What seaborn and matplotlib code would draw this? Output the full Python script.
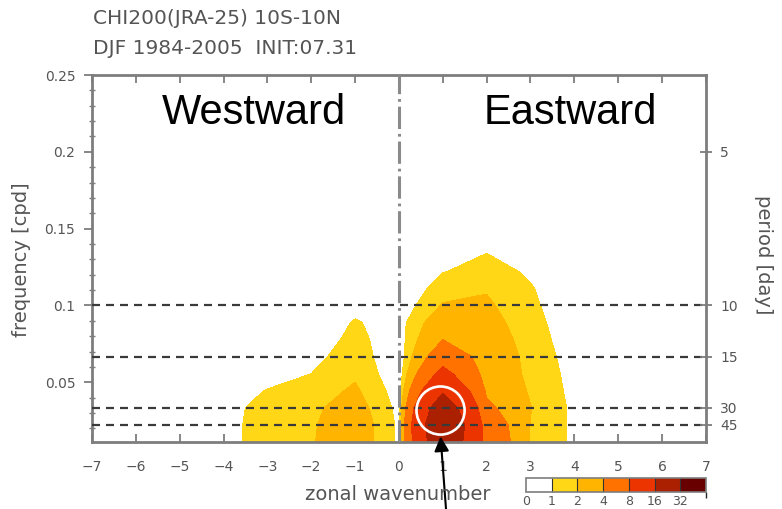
import matplotlib
matplotlib.use("Agg")
import matplotlib.pyplot as plt
import seaborn as sns
import numpy as np
from matplotlib.colors import ListedColormap, BoundaryNorm
from matplotlib.colorbar import ColorbarBase

# zonal wavenumber (columns) and frequency index k -> k/90 cpd (rows)
wavenumbers = [-7, -6, -5, -4, -3, -2, -1, 0, 1, 2, 3, 4, 5, 6, 7]
freq_index = [1, 2, 3, 4, 5, 6, 7, 8, 9, 10, 11, 12, 13, 14]
season_days = 90

power = [
    [0, 0, 0, 0.69, 1.4, 1.9, 2.9, 0.8, 24, 6.5, 1.9, 0.8, 0.2, 0.1, 0.05],
    [0, 0, 0, 0.69, 1.4, 1.85, 2.9, 0.8, 26, 6.0, 1.95, 0.8, 0.2, 0.1, 0.05],
    [0, 0, 0, 0.65, 1.35, 1.75, 2.6, 0.7, 22, 4.6, 2.05, 0.78, 0.2, 0.1, 0.05],
    [0, 0, 0, 0.5, 1.05, 1.4, 2.2, 0.5, 15, 3.6, 1.85, 0.72, 0.2, 0.1, 0.05],
    [0, 0, 0, 0.3, 0.6, 1.0, 1.8, 0.3, 9.5, 3.0, 1.75, 0.65, 0.15, 0.1, 0.05],
    [0, 0, 0, 0.1, 0.3, 0.7, 1.5, 0.3, 6.0, 3.0, 1.65, 0.55, 0.1, 0.05, 0],
    [0, 0, 0, 0, 0.1, 0.5, 1.25, 0.5, 4.0, 2.8, 1.5, 0.45, 0.1, 0, 0],
    [0, 0, 0, 0, 0, 0.3, 1.08, 0.6, 3.0, 2.5, 1.35, 0.4, 0.1, 0, 0],
    [0, 0, 0, 0, 0, 0.1, 0.7, 0.3, 2.1, 2.2, 1.2, 0.33, 0.05, 0, 0],
    [0, 0, 0, 0, 0, 0, 0.3, 0.1, 1.5, 1.9, 1.08, 0.28, 0, 0, 0],
    [0, 0, 0, 0, 0, 0, 0.1, 0, 0.95, 1.4, 0.85, 0.2, 0, 0, 0],
    [0, 0, 0, 0, 0, 0, 0, 0, 0.6, 1.02, 0.5, 0.1, 0, 0, 0],
    [0, 0, 0, 0, 0, 0, 0, 0, 0.3, 0.5, 0.2, 0, 0, 0, 0],
    [0, 0, 0, 0, 0, 0, 0, 0, 0.1, 0.2, 0, 0, 0, 0, 0],
]

levels = [1, 2, 4, 8, 16, 32, 64]
shade_colors = ["#ffd716", "#ffb400", "#ff7200", "#ec3400", "#aa2000", "#690000"]
period_days = [5, 10, 15, 30, 45]
ref_periods = [10, 15, 30, 45]
highlight_wn, highlight_freq = 0.95, 0.0316

sns.set_theme(style="white")
plt.rcParams["font.family"] = ["DejaVu Sans"]
grey = "#7d7d7d"
text_grey = "#555555"

fig = plt.figure(figsize=(7.82, 5.09), dpi=100)
ax = fig.add_axes([0.1176, 0.1316, 0.785, 0.721])

freqs = np.array(freq_index) / season_days
ax.contourf(wavenumbers, freqs, np.array(power), levels=levels,
            colors=sns.color_palette(shade_colors), zorder=1)

for p in ref_periods:
    ax.axhline(1 / p, color="#3a3a3a", lw=1.6, ls=(0, (3.6, 2.7)), zorder=3)
ax.axvline(0, color="#8a8a8a", lw=2.2, ls=(0, (7.3, 1.6, 0.9, 1.6)), zorder=3)

ax.scatter([highlight_wn], [highlight_freq], s=1200, facecolors="none",
           edgecolors="white", linewidths=1.9, zorder=5)
ax.annotate("", xy=(highlight_wn, 0.0147), xycoords="data",
            xytext=(446 / 782, 0.0), textcoords="figure fraction",
            arrowprops=dict(arrowstyle="-|>", color="black", lw=1.5,
                            mutation_scale=22, shrinkA=0, shrinkB=0),
            annotation_clip=False, zorder=6)

ax.set_xlim(-7, 7)
ax.set_ylim(1 / season_days, 0.25)
ax.set_xticks(range(-7, 8))
ax.set_yticks([0.05, 0.1, 0.15, 0.2, 0.25])
ax.set_yticklabels(["0.05", "0.1", "0.15", "0.2", "0.25"])
ax.set_yticks(np.arange(0.02, 0.25, 0.01), minor=True)
ax.tick_params(axis="x", direction="in", length=6, width=1.3, color=grey,
               labelsize=10, labelcolor=text_grey, pad=13, top=True, bottom=True)
ax.tick_params(axis="y", which="major", direction="out", length=6, width=1.3,
               color=grey, labelsize=10, labelcolor=text_grey, pad=6)
ax.tick_params(axis="y", which="minor", direction="inout", length=5, width=1.0,
               color=grey, left=True)
for sp in ax.spines.values():
    sp.set_color(grey)
    sp.set_linewidth(2)
    sp.set_visible(True)

ax2 = ax.twinx()
ax2.set_ylim(ax.get_ylim())
ax2.set_yticks([1 / p for p in period_days])
ax2.set_yticklabels([str(p) for p in period_days])
ax2.tick_params(axis="y", direction="inout", length=9, width=1.3, color=grey,
                labelsize=10, labelcolor=text_grey, pad=6)
for sp in ax2.spines.values():
    sp.set_visible(False)

ax.text(-3.31, 0.225, "Westward", fontsize=30, family="Liberation Sans",
        ha="center", va="center", color="black", zorder=6)
ax.text(3.90, 0.225, "Eastward", fontsize=30, family="Liberation Sans",
        ha="center", va="center", color="black", zorder=6)

fig.text(93 / 782, 1 - 19 / 509, "CHI200(JRA-25) 10S-10N", fontsize=14.5,
         color=text_grey, ha="left", va="center")
fig.text(93 / 782, 1 - 49 / 509, "DJF 1984-2005  INIT:07.31", fontsize=14.5,
         color=text_grey, ha="left", va="center")
fig.text(398 / 782, 1 - 494 / 509, "zonal wavenumber", fontsize=14,
         color=text_grey, ha="center", va="center")
fig.text(22 / 782, 1 - 260 / 509, "frequency [cpd]", fontsize=14,
         color=text_grey, ha="center", va="center", rotation=90)
fig.text(763 / 782, 1 - 255 / 509, "period [day]", fontsize=14,
         color=text_grey, ha="center", va="center", rotation=270)

# shade key
cax = fig.add_axes([526 / 782, 1 - 492 / 509, 180 / 782, 14 / 509])
cb = ColorbarBase(cax, cmap=ListedColormap(["white"] + shade_colors),
                  norm=BoundaryNorm([0] + levels, 7), orientation="horizontal",
                  spacing="uniform", drawedges=True)
cb.set_ticks([0] + levels[:-1])
cb.set_ticklabels([str(v) for v in [0] + levels[:-1]])
cb.outline.set_edgecolor(grey)
cb.outline.set_linewidth(1.2)
cb.dividers.set_color("#333333")
cb.dividers.set_linewidth(0.8)
cax.tick_params(length=0, labelsize=9, labelcolor=text_grey, pad=2)

fig.savefig("out.png", dpi=100)
